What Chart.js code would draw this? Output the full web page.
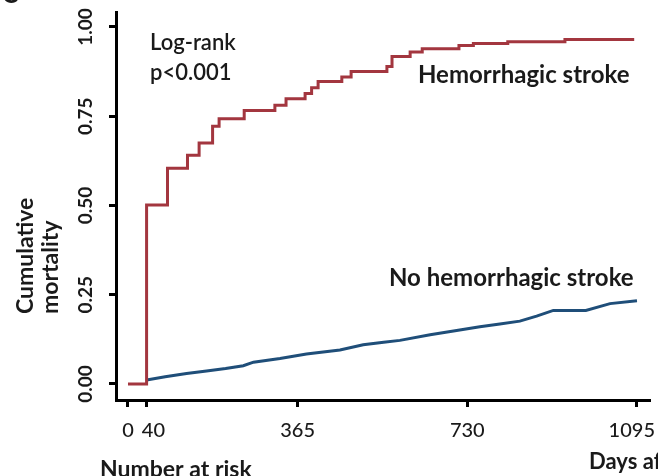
<!DOCTYPE html>
<html>
<head>
<meta charset="utf-8">
<script src="https://cdn.jsdelivr.net/npm/chart.js@4.4.0/dist/chart.umd.min.js"></script>
<style>
  html, body { margin: 0; padding: 0; background: #ffffff; overflow: hidden; }
  #wrap { width: 658px; height: 476px; }
</style>
</head>
<body>
<div id="wrap"><canvas id="km" width="658" height="476"></canvas></div>
<script>
// Kaplan-Meier cumulative mortality after stroke (days from onset)
const hemDays = [0, 40, 85, 128, 153, 182, 196, 250, 316, 340, 381, 395, 409, 460, 480, 557, 568, 607, 633, 712, 743, 817, 940, 1089];
const hemMortality = [0, 0.501, 0.604, 0.641, 0.675, 0.722, 0.743, 0.766, 0.781, 0.799, 0.814, 0.830, 0.847, 0.860, 0.875, 0.889, 0.917, 0.930, 0.939, 0.948, 0.954, 0.959, 0.965, 0.965];

const noHemDays = [40, 80, 126, 169, 210, 248, 270, 327, 384, 456, 506, 550, 585, 650, 707, 757, 800, 843, 879, 915, 985, 1037, 1095];
const noHemMortality = [0.011, 0.020, 0.029, 0.036, 0.043, 0.051, 0.061, 0.071, 0.084, 0.095, 0.110, 0.117, 0.122, 0.138, 0.150, 0.160, 0.168, 0.176, 0.190, 0.206, 0.206, 0.225, 0.233];

const dayTicks = [0, 40, 365, 730, 1095];
const mortalityTicks = [0, 0.25, 0.5, 0.75, 1];

const seriesNames = ['Hemorrhagic stroke', 'No hemorrhagic stroke'];
const testLines = ['Log-rank', 'p<0.001'];
const yTitleLines = ['Cumulative', 'mortality'];
const riskTitle = 'Number at risk';
const xTitle = 'Days after stroke';

const FONT = 'Lato, "Open Sans", sans-serif';
const INK = '#1a1a1a';

function toPoints(xs, ys) {
  return xs.map((x, i) => ({ x: x, y: ys[i] }));
}

// All labels are drawn here so the rotated y tick labels and the curve captions sit where wanted
const labelPlugin = {
  id: 'kmLabels',
  afterDraw(chart) {
    const { ctx, chartArea, scales } = chart;
    const xs = scales.x, ys = scales.y;
    ctx.save();
    ctx.fillStyle = INK;

    // y tick labels, reading bottom to top
    ctx.font = 'bold 19px ' + FONT;
    ctx.textAlign = 'center';
    ctx.textBaseline = 'alphabetic';
    mortalityTicks.forEach(v => {
      ctx.save();
      ctx.translate(chartArea.left - 24, ys.getPixelForValue(v));
      ctx.rotate(-Math.PI / 2);
      ctx.fillText(v.toFixed(2), 0, 0);
      ctx.restore();
    });

    // x tick labels, nudged when a neighbour would touch or the edge would clip
    ctx.font = '500 20px ' + FONT;
    let prevRight = -Infinity;
    dayTicks.forEach(d => {
      const txt = String(d);
      const w = ctx.measureText(txt).width;
      let cx = Math.max(xs.getPixelForValue(d), prevRight + 8 + w / 2);
      cx = Math.min(cx, chart.width - 3 - w / 2);
      ctx.fillText(txt, cx, chartArea.bottom + 37);
      prevRight = cx + w / 2;
    });

    // y axis title, two rotated lines
    ctx.font = 'bold 23px ' + FONT;
    ctx.textAlign = 'left';
    [33, 58].forEach((bx, i) => {
      ctx.save();
      ctx.translate(bx, 314);
      ctx.rotate(-Math.PI / 2);
      ctx.fillText(yTitleLines[i], 0, 0);
      ctx.restore();
    });

    // log-rank test result
    ctx.font = '600 22px ' + FONT;
    ctx.fillText(testLines[0], 150, 50);
    ctx.fillText(testLines[1], 150, 80);

    // curve captions
    ctx.font = 'bold 24px ' + FONT;
    ctx.fillText(seriesNames[0], 418, 83);
    ctx.fillText(seriesNames[1], 389, 286);

    // bottom captions
    ctx.font = 'bold 23px ' + FONT;
    ctx.fillText(riskTitle, 100, 477);
    ctx.font = 'bold 22px ' + FONT;
    ctx.fillText(xTitle, 589, 469);

    // panel letter
    ctx.font = 'bold 24px ' + FONT;
    ctx.fillText('C', 2, 3);

    ctx.restore();
  }
};

new Chart(document.getElementById('km'), {
  type: 'line',
  data: {
    datasets: [
      {
        label: seriesNames[0],
        data: toPoints(hemDays, hemMortality),
        stepped: true,
        borderColor: '#A3363F',
        borderWidth: 3,
        pointRadius: 0,
        fill: false,
        order: 0
      },
      {
        label: seriesNames[1],
        data: toPoints(noHemDays, noHemMortality),
        borderColor: '#1F4E79',
        borderWidth: 3,
        pointRadius: 0,
        tension: 0,
        fill: false,
        order: 1
      }
    ]
  },
  options: {
    responsive: false,
    animation: false,
    devicePixelRatio: 1,
    layout: { padding: { left: 109, right: 8, top: 12, bottom: 69 } },
    plugins: {
      legend: { display: false },
      tooltip: { enabled: false }
    },
    scales: {
      x: {
        type: 'linear',
        min: -25.8,
        max: 1123,
        afterBuildTicks: s => { s.ticks = dayTicks.map(v => ({ value: v })); },
        ticks: { display: false },
        grid: {
          drawOnChartArea: false,
          drawTicks: true,
          tickLength: 7,
          tickWidth: 3,
          tickColor: '#000',
          color: '#000'
        },
        border: { display: true, color: '#000', width: 3 }
      },
      y: {
        type: 'linear',
        min: -0.045,
        max: 1.042,
        afterBuildTicks: s => { s.ticks = mortalityTicks.map(v => ({ value: v })); },
        ticks: { display: false },
        grid: {
          drawOnChartArea: false,
          drawTicks: true,
          tickLength: 7,
          tickWidth: 3,
          tickColor: '#000',
          color: '#000'
        },
        border: { display: true, color: '#000', width: 3 }
      }
    }
  },
  plugins: [labelPlugin]
});
</script>
</body>
</html>
